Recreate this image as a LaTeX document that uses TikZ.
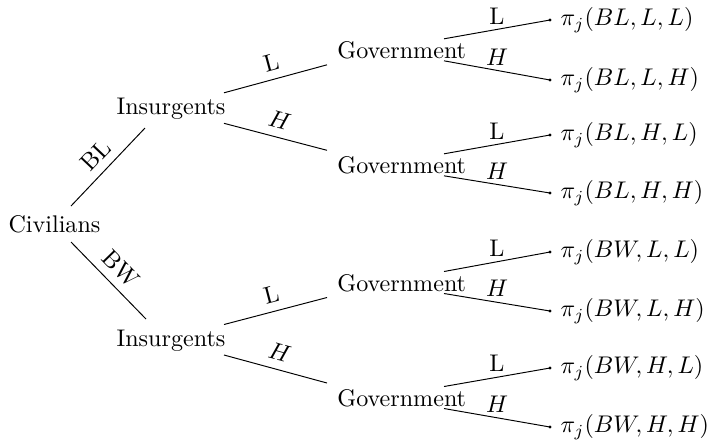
\documentclass[tikz,border=0pt]{standalone}
\begin{document}
\begin{tikzpicture}[x=0.415pt,y=-0.415pt,
  lbl/.style={midway, above, sloped},
  tlbl/.style={midway, above, inner sep=2pt},
  leafdot/.style={circle, fill, inner sep=0pt, minimum size=1.4pt}]
\useasboundingbox (0,0) rectangle (713,446);
% main nodes
\node[anchor=base] (civ) at (54.5,232.7) {Civilians};
\node[anchor=base] (ins1) at (171,114.3) {Insurgents};
\node[anchor=base] (ins2) at (171,346) {Insurgents};
\node[anchor=base] (gov1) at (401.7,58.3) {Government};
\node[anchor=base] (gov2) at (401.7,173.3) {Government};
\node[anchor=base] (gov3) at (401.7,291) {Government};
\node[anchor=base] (gov4) at (401.7,406) {Government};
% leaves
\node[leafdot, label={[inner sep=3.33pt]right:$\pi_j(BL,L,L)$}] (l1) at (550,20) {};
\node[leafdot, label={[inner sep=3.33pt]right:$\pi_j(BL,L,H)$}] (l2) at (550,80) {};
\node[leafdot, label={[inner sep=3.33pt]right:$\pi_j(BL,H,L)$}] (l3) at (550,135) {};
\node[leafdot, label={[inner sep=3.33pt]right:$\pi_j(BL,H,H)$}] (l4) at (550,193) {};
\node[leafdot, label={[inner sep=3.33pt]right:$\pi_j(BW,L,L)$}] (l5) at (550,252) {};
\node[leafdot, label={[inner sep=3.33pt]right:$\pi_j(BW,L,H)$}] (l6) at (550,311) {};
\node[leafdot, label={[inner sep=3.33pt]right:$\pi_j(BW,H,L)$}] (l7) at (550,368) {};
\node[leafdot, label={[inner sep=3.33pt]right:$\pi_j(BW,H,H)$}] (l8) at (550,427) {};
% civilians -> insurgents
\draw ([shift={(16.5,-26.7)}]civ.base) -- node[lbl]{BL} ([shift={(-26,13.7)}]ins1.base);
\draw ([shift={(16.5,9.3)}]civ.base) -- node[lbl]{BW} ([shift={(-25,-27)}]ins2.base);
% insurgents -> government
\draw ([shift={(53,-21.5)}]ins1.base) -- node[lbl]{L} ([shift={(-74.7,6.5)}]gov1.base);
\draw ([shift={(53,9)}]ins1.base) -- node[lbl]{$H$} ([shift={(-74.7,-23)}]gov2.base);
\draw ([shift={(53,-21.5)}]ins2.base) -- node[lbl]{L} ([shift={(-74.7,6.5)}]gov3.base);
\draw ([shift={(53,9)}]ins2.base) -- node[lbl]{$H$} ([shift={(-74.7,-23)}]gov4.base);
% government -> leaves
\draw ([shift={(42.3,-19.5)}]gov1.base) -- node[tlbl]{L} (l1.center);
\draw ([shift={(42.3,2.5)}]gov1.base) -- node[tlbl]{$H$} (l2.center);
\draw ([shift={(42.3,-19.5)}]gov2.base) -- node[tlbl]{L} (l3.center);
\draw ([shift={(42.3,2.5)}]gov2.base) -- node[tlbl]{$H$} (l4.center);
\draw ([shift={(42.3,-19.5)}]gov3.base) -- node[tlbl]{L} (l5.center);
\draw ([shift={(42.3,2.5)}]gov3.base) -- node[tlbl]{$H$} (l6.center);
\draw ([shift={(42.3,-19.5)}]gov4.base) -- node[tlbl]{L} (l7.center);
\draw ([shift={(42.3,2.5)}]gov4.base) -- node[tlbl]{$H$} (l8.center);
\end{tikzpicture}
\end{document}
